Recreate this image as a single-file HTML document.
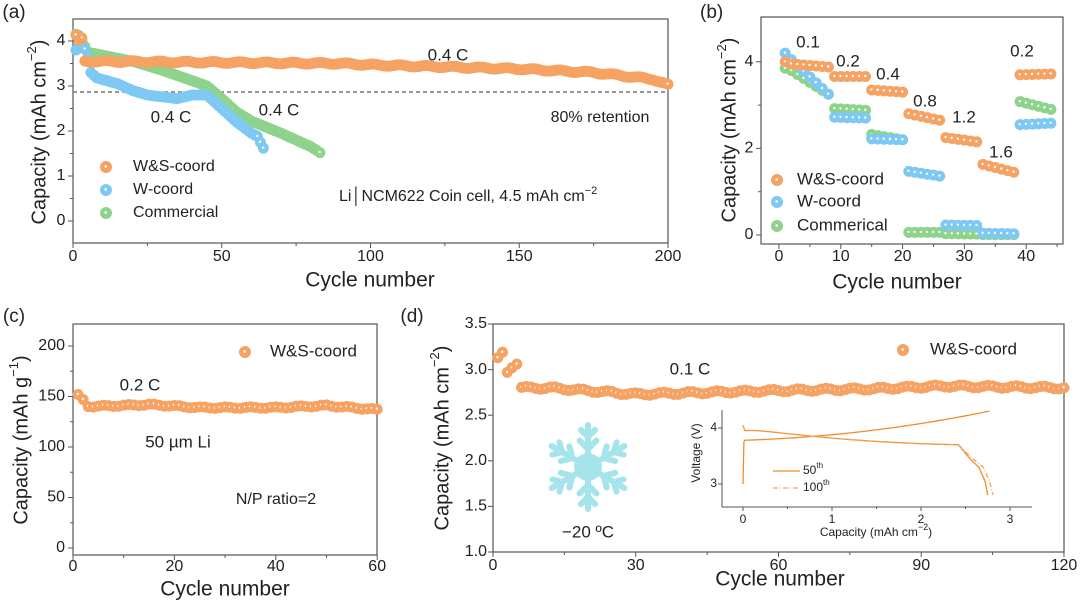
<!DOCTYPE html>
<html><head><meta charset="utf-8"><style>
html,body{margin:0;padding:0;background:#fff;}
svg{display:block;font-family:"Liberation Sans",sans-serif;}
</style></head><body>
<svg id="s" width="1080" height="604" viewBox="0 0 1080 604" xmlns="http://www.w3.org/2000/svg"></svg>
<script>
const S=document.getElementById('s');let h='';
const OR='#F5A263',BL='#7DC9F4',GR='#8ED38C';
function t(x,y,s,fs,anc,extra){h+=`<text x="${x}" y="${y}" font-size="${fs}" text-anchor="${anc||'middle'}" dominant-baseline="middle" fill="#222" ${extra||''}>${s}</text>`;}
function box(l,r,tp,b){h+=`<rect x="${l}" y="${tp}" width="${r-l}" height="${b-tp}" fill="none" stroke="#555" stroke-width="1.2"/>`;}
function mk(x,y,c,r){r=r||5;h+=`<circle cx="${x}" cy="${y}" r="${r}" fill="${c}"/><circle cx="${x-0.3}" cy="${y-0.5}" r="${r*0.22}" fill="#fff"/>`;}
function interp(pts,c){for(let i=0;i<pts.length-1;i++){if(c>=pts[i][0]&&c<=pts[i+1][0]){const f=(c-pts[i][0])/(pts[i+1][0]-pts[i][0]||1);return pts[i][1]+f*(pts[i+1][1]-pts[i][1]);}}return pts[pts.length-1][1];}
function xt(x,y,len){h+=`<line x1="${x}" y1="${y}" x2="${x}" y2="${y+len}" stroke="#555" stroke-width="1"/>`;}
function yt(x,y,len){h+=`<line x1="${x}" y1="${y}" x2="${x-len}" y2="${y}" stroke="#555" stroke-width="1"/>`;}

// ---------- (a)
{const L=73,R=668,T=19,B=243;const X=c=>L+2.975*c,Y=v=>221-45*v;
t(14,13,'(a)',19);
box(L,R,T,B);
for(let c=0;c<=200;c+=25){xt(X(c),B,c%50?3:5);} [0,50,100,150,200].forEach(c=>t(X(c),257,c,16));
[0,1,2,3,4].forEach(v=>{yt(L,Y(v),5);t(L-12,Y(v),v,16);}); [0.5,1.5,2.5,3.5].forEach(v=>yt(L,Y(v),3));
t(370,281,'Cycle number',21);
t(40,132,'Capacity (mAh cm<tspan dy="-7" font-size="13">−2</tspan><tspan dy="7">)</tspan>',20,'middle','transform="rotate(-90 40 132)"');
h+=`<line x1="${L}" y1="92" x2="${R}" y2="92" stroke="#777" stroke-width="1.5" stroke-dasharray="4,3"/>`;
const com=[[1,4.15],[2,4.12],[5,3.75],[20,3.55],[30,3.35],[40,3.12],[45,3.0],[50,2.72],[55,2.42],[60,2.22],[70,1.95],[80,1.65],[83,1.52]];
for(let c=1;c<=83;c++)mk(X(c),Y(interp(com,c)),GR,5.5);
const w=[[1,3.8],[2,3.88],[3,3.85],[4,3.82],[5,3.62],[6,3.3],[8,3.18],[15,3.05],[20,2.9],[25,2.8],[35,2.72],[40,2.8],[45,2.8],[50,2.5],[55,2.2],[60,1.95],[62,1.88],[63,1.75],[64,1.62]];
for(let c=1;c<=64;c++)mk(X(c),Y(interp(w,c)),BL,5.5);
const ws=[[1,4.12],[2,4.0],[3,4.05],[4,3.55],[90,3.5],[100,3.47],[150,3.38],[175,3.3],[195,3.15],[200,3.02]];
for(let c=1;c<=200;c++)mk(X(c),Y(interp(ws,c)+0.02*Math.sin(c*0.7)),OR,5.5);
t(448,56,'0.4 C',17);t(171,118,'0.4 C',17);t(279,111,'0.4 C',17);t(600,118,'80% retention',16);
t(339,197,'Li│NCM622 Coin cell, 4.5 mAh cm<tspan dy="-6" font-size="11">−2</tspan>',16,'start');
[[OR,'W&amp;S-coord',167],[BL,'W-coord',190],[GR,'Commercial',213]].forEach(a=>{mk(106,a[2],a[0],6);t(133,a[2],a[1],16,'start');});
}
// ---------- (b)
{const L=761,R=1063,T=17,B=244;const X=c=>779+6.18*c,Y=v=>235-43.3*v;
t(700,13,'(b)',19,'start');
box(L,R,T,B);
[0,10,20,30,40].forEach(c=>{xt(X(c),B,5);t(X(c),257,c,16);});[5,15,25,35,45].forEach(c=>xt(X(c),B,3));
[0,2,4].forEach(v=>{yt(L,Y(v),5);t(L-12,Y(v),v,16);});[1,3].forEach(v=>yt(L,Y(v),3));
t(897,283,'Cycle number',21);
t(730,130,'Capacity (mAh cm<tspan dy="-7" font-size="13">−2</tspan><tspan dy="7">)</tspan>',20,'middle','transform="rotate(-90 730 130)"');
const seg=(arr,c)=>{for(const s of arr){if(c>=s[0]&&c<=s[1])return s[1]===s[0]?s[2]:s[2]+(s[3]-s[2])*(c-s[0])/(s[1]-s[0]);}return 0;};
const com=[[1,1,3.85,3.85],[2,8,3.8,3.25],[9,14,2.92,2.88],[15,20,2.32,2.2],[21,26,0.06,0.06],[27,32,0.03,0.02],[33,38,0.01,0.01],[39,44,3.08,2.9]];
const wc=[[1,1,4.2,4.2],[2,8,4.05,3.25],[9,14,2.72,2.7],[15,20,2.22,2.2],[21,26,1.47,1.36],[27,32,0.23,0.22],[33,38,0.04,0.03],[39,44,2.55,2.58]];
const ws=[[1,1,4.0,4.0],[2,8,3.95,3.88],[9,14,3.66,3.66],[15,20,3.35,3.3],[21,26,2.8,2.65],[27,32,2.25,2.15],[33,38,1.63,1.45],[39,44,3.7,3.72]];
for(let c=1;c<=44;c++)mk(X(c),Y(seg(com,c)),GR,5.5);
for(let c=1;c<=44;c++)mk(X(c),Y(seg(wc,c)),BL,5.5);
for(let c=1;c<=44;c++)mk(X(c),Y(seg(ws,c)),OR,5.5);
t(808,43,'0.1',17);t(848,62,'0.2',17);t(888,75,'0.4',17);t(925,102,'0.8',17);t(964,118,'1.2',17);t(1001,153,'1.6',17);t(1022,52,'0.2',17);
[[OR,'W&amp;S-coord',180],[BL,'W-coord',202],[GR,'Commerical',226]].forEach(a=>{mk(777,a[2],a[0],6);t(797,a[2],a[1],17,'start');});
}
// ---------- (c)
{const L=73,R=377,T=324,B=555;const X=c=>73+5.07*c,Y=v=>548-1.01*v;
t(14,317,'(c)',19);
box(L,R,T,B);
[0,20,40,60].forEach(c=>{xt(X(c),B,5);t(X(c),567,c,16);});[10,30,50].forEach(c=>xt(X(c),B,3));
[0,50,100,150,200].forEach(v=>{yt(L,Y(v),5);t(L-8,Y(v),v,16,'end');});[25,75,125,175].forEach(v=>yt(L,Y(v),3));
t(225,590,'Cycle number',21);
t(22,440,'Capacity (mAh g<tspan dy="-7" font-size="13">−1</tspan><tspan dy="7">)</tspan>',20,'middle','transform="rotate(-90 22 440)"');
const d=[[1,152],[2,147],[3,140],[15,142],[25,139],[40,139],[50,141],[55,139],[60,137]];
for(let c=1;c<=60;c++)mk(X(c),Y(interp(d,c)+(c>3?0.8*Math.sin(c*1.3):0)),OR,5.5);
mk(245,352,OR,6);t(270,352,'W&amp;S-coord',17,'start');
t(140,386,'0.2 C',17);t(178,443,'50 µm  Li',17);t(276,500,'N/P ratio=2',16);
}
// ---------- (d)
{const L=493,R=1064,T=324,B=552;const X=c=>493+4.758*c,Y=v=>552-91.2*(v-1);
t(412,317,'(d)',19);
box(L,R,T,B);
[0,30,60,90,120].forEach(c=>{xt(X(c),B,5);t(X(c),566,c,16);});[15,45,75,105].forEach(c=>xt(X(c),B,3));
[1.0,1.5,2.0,2.5,3.0,3.5].forEach(v=>{yt(L,Y(v),5);t(L-6,Y(v),v.toFixed(1),16,'end');});
t(780,580,'Cycle number',21);
t(443,438,'Capacity (mAh cm<tspan dy="-7" font-size="13">−2</tspan><tspan dy="7">)</tspan>',20,'middle','transform="rotate(-90 443 438)"');
const fst={1:3.13,2:3.19,3:2.97,4:3.02,5:3.06};
const d=[[6,2.8],[12,2.8],[30,2.73],[45,2.75],[60,2.77],[80,2.79],[95,2.82],[120,2.8]];
for(let c=1;c<=120;c++)mk(X(c),Y(fst[c]||interp(d,c)+0.015*Math.sin(c*1.1)),OR,5.5);
mk(903,350,OR,6);t(930,350,'W&amp;S-coord',17,'start');
t(690,370,'0.1 C',17);
const cx=588,cy=467;let sf='';
for(let k=0;k<6;k++){const a=k*Math.PI/3;const ux=Math.sin(a),uy=-Math.cos(a);
 const p=(r)=>[cx+ux*r,cy+uy*r];
 let e=p(42);sf+=`M${cx} ${cy}L${e[0]} ${e[1]}`;
 [[18,12],[30,10]].forEach(b=>{const q=p(b[0]);[1,-1].forEach(sg=>{const ang=a+sg*Math.PI/4;sf+=`M${q[0]} ${q[1]}L${q[0]+Math.sin(ang)*b[1]} ${q[1]-Math.cos(ang)*b[1]}`;});});}
h+=`<path d="${sf}" stroke="#A6E4EC" stroke-width="6" stroke-linecap="round" fill="none"/><circle cx="${cx}" cy="${cy}" r="14" fill="#A6E4EC"/>`;
t(588,533,'−20 ºC',17);
const IL=722,IR=1032,IT=410,IB=507;const ix=v=>743+89*v,iy=v=>484-56*(v-3);
h+=`<line x1="${IL}" y1="${IT}" x2="${IL}" y2="${IB}" stroke="#555"/><line x1="${IL}" y1="${IB}" x2="${IR}" y2="${IB}" stroke="#555"/>`;
[0,1,2,3].forEach(v=>{xt(ix(v),IB,4);t(ix(v),520,v,12);});[0.5,1.5,2.5].forEach(v=>xt(ix(v),IB,2));
[3,4].forEach(v=>{yt(IL,iy(v),4);t(IL-5,iy(v),v,12,'end');});
t(876,533,'Capacity (mAh cm<tspan dy="-5" font-size="9">−2</tspan><tspan dy="5">)</tspan>',12);
t(697,453,'Voltage (V)',12,'middle','transform="rotate(-90 697 453)"');
let ch=`M${ix(0)} ${iy(3)}L${ix(0.01)} ${iy(3.75)}`;for(let q=0.02;q<=2.8;q+=0.05){const v=3.78+0.05*q+0.05*q*q;ch+=`L${ix(q)} ${iy(v)}`;}
let dc=`M${ix(0)} ${iy(4.05)}`;for(let q=0.02;q<=2.45;q+=0.05){const v=4.0-0.22*q+0.04*q*q-0.05*Math.exp(-q*8);dc+=`L${ix(q)} ${iy(Math.min(v,4.05))}`;}
const dcA=dc+`L${ix(2.55)} ${iy(3.45)}L${ix(2.65)} ${iy(3.3)}L${ix(2.72)} ${iy(3.05)}L${ix(2.75)} ${iy(2.8)}`;
const dcB=dc+`L${ix(2.58)} ${iy(3.45)}L${ix(2.7)} ${iy(3.3)}L${ix(2.77)} ${iy(3.05)}L${ix(2.81)} ${iy(2.8)}`;
h+=`<path d="${ch}" stroke="#F08C2E" fill="none" stroke-width="1.3"/><path d="${dcA}" stroke="#F08C2E" fill="none" stroke-width="1.3"/><path d="${dcB}" stroke="#F5A55E" fill="none" stroke-width="1.3" stroke-dasharray="5,2,1,2"/>`;
h+=`<line x1="773" y1="471" x2="800" y2="471" stroke="#F08C2E" stroke-width="1.3"/><line x1="773" y1="488" x2="800" y2="488" stroke="#F5A55E" stroke-width="1.3" stroke-dasharray="5,2,1,2"/>`;
t(803,471,'50<tspan dy="-5" font-size="8">th</tspan>',12,'start');t(803,488,'100<tspan dy="-5" font-size="8">th</tspan>',12,'start');
}
S.innerHTML=h;
</script>
</body></html>
